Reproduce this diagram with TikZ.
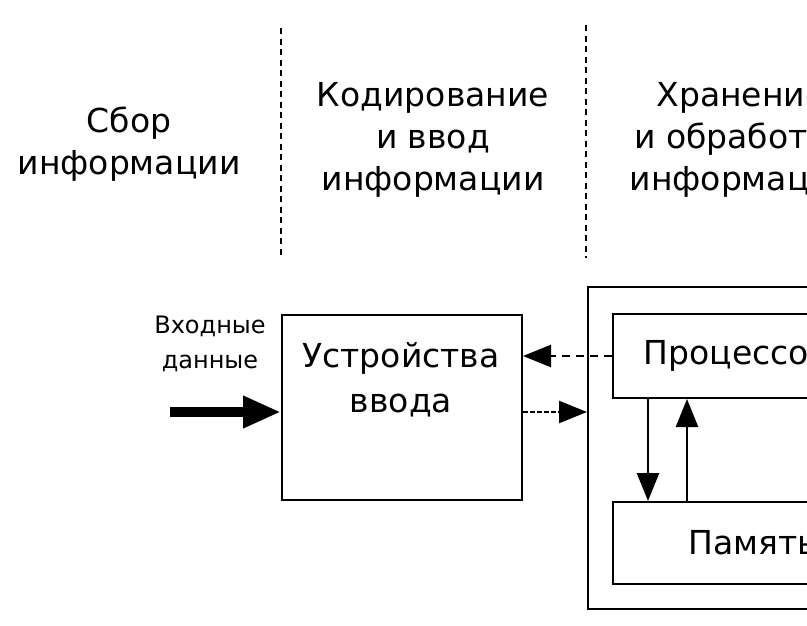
\documentclass[tikz,border=0pt]{standalone}
\usepackage{fontspec}
\setmainfont{DejaVu Sans}
\usepackage{tikz}
\usetikzlibrary{arrows.meta}
\tikzstyle{stage} = [align=center, font=\fontsize{33}{42}\selectfont]
\tikzstyle{block} = [rectangle, draw=black, line width=2pt, font=\fontsize{33}{45}\selectfont, align=center]
\tikzstyle{arrow} = [line width=2.5pt, -{Triangle[length=28pt,width=22pt]}]
\tikzstyle{dasharrow} = [arrow, dash pattern=on 8pt off 6pt]
\tikzstyle{dotarrow} = [arrow, dash pattern=on 5pt off 2pt]
\tikzstyle{bigarrow} = [line width=10pt, -{Triangle[length=38pt,width=30pt]}]
\tikzstyle{border} = [line width=2pt, dash pattern=on 6pt off 4.5pt]

\begin{document}
\begin{tikzpicture}[x=1pt, y=-1pt]
        \useasboundingbox (0,0) rectangle (807,625);
        \clip (0,0) rectangle (807,625);

        % stages
        \node (collect) [stage] at (129,144) {Сбор\\информации};
        \node (encode) [stage] at (433,140) {Кодирование\\и ввод\\информации};
        \node (process) [stage] at (741,140) {Хранение\\и обработка\\информации};
        \draw [border] (281,28) -- (281,258);
        \draw [border] (586,25) -- (586,258);

        % input
        \node (indata) [align=center, font=\fontsize{24}{35}\selectfont] at (210,344) {Входные\\данные};
        \node (inbox) [block, minimum width=240pt, minimum height=185pt, anchor=north west] at (281,314) {};
        \node (intext) [stage, font=\fontsize{33}{45}\selectfont] at (401,380) {Устройства\\ввода};
        \coordinate (src) at (170,412);
        \draw [bigarrow] (src) -- (inbox.west |- src);

        % computer
        \node (store) [block, minimum width=333pt, minimum height=322pt, anchor=north west] at (587,286) {};
        \node (cpu) [block, minimum width=248pt, minimum height=84pt, anchor=north west] at (612,313) {Процессор};
        \node (mem) [block, minimum width=280pt, minimum height=82pt, anchor=north west] at (612,501) {Память};

        \draw [dasharrow] (cpu.west) -- (cpu.west -| inbox.east);
        \coordinate (link) at ([yshift=-4.5pt]inbox.east);
        \draw [dotarrow] (link) -- (link -| store.west);
        \draw [arrow] ([xshift=36pt]cpu.south west) -- ([xshift=36pt]mem.north west);
        \draw [arrow] ([xshift=75pt]mem.north west) -- ([xshift=75pt]cpu.south west);
    \end{tikzpicture}
\end{document}
